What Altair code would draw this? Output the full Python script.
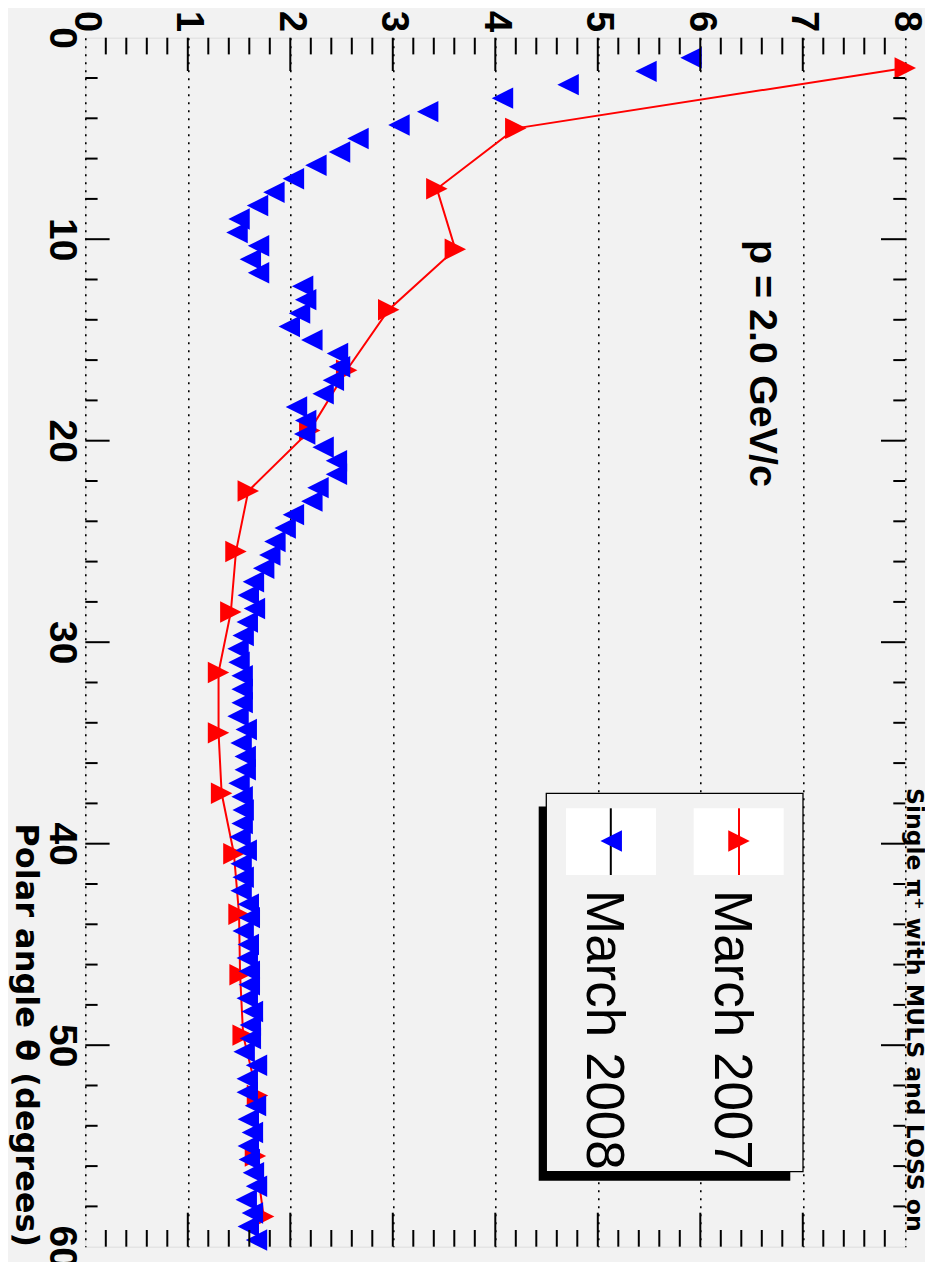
import altair as alt
import pandas as pd

W, H = 820, 1209
FONT = "Liberation Sans"
WIDE = "DejaVu Sans"

# ---- data ----
red_angle = [1.5, 4.5, 7.5, 10.5, 13.5, 16.5, 19.5, 22.5, 25.5, 28.5,
             31.5, 34.5, 37.5, 40.5, 43.5, 46.5, 49.5, 52.5, 55.5, 58.5]
red_value = [8.0, 4.2, 3.43, 3.61, 2.96, 2.55, 2.19, 1.59, 1.47, 1.42,
             1.30, 1.30, 1.33, 1.45, 1.50, 1.51, 1.54, 1.68, 1.66, 1.74]

blue_angle = [1.0, 1.67, 2.33, 3.0, 3.67, 4.33, 5.0, 5.67, 6.33, 7.0,
              7.67, 8.33, 9.0, 9.67, 10.33, 11.0, 11.67, 12.33, 13.0, 13.67,
              14.33, 15.0, 15.67, 16.33, 17.0, 17.67, 18.33, 19.0, 19.67, 20.33,
              21.0, 21.67, 22.33, 23.0, 23.67, 24.33, 25.0, 25.67, 26.33, 27.0,
              27.67, 28.33, 29.0, 29.67, 30.33, 31.0, 31.67, 32.33, 33.0, 33.67,
              34.33, 35.0, 35.67, 36.33, 37.0, 37.67, 38.33, 39.0, 39.67, 40.33,
              41.0, 41.67, 42.33, 43.0, 43.67, 44.33, 45.0, 45.67, 46.33, 47.0,
              47.67, 48.33, 49.0, 49.67, 50.33, 51.0, 51.67, 52.33, 53.0, 53.67,
              54.33, 55.0, 55.67, 56.33, 57.0, 57.67, 58.33, 59.0, 59.67]
blue_value = [5.91, 5.47, 4.71, 4.07, 3.34, 3.06, 2.66, 2.48, 2.25, 2.03,
              1.84, 1.68, 1.50, 1.48, 1.69, 1.61, 1.69, 2.12, 2.15, 2.09,
              1.99, 2.21, 2.46, 2.48, 2.42, 2.32, 2.06, 2.15, 2.14, 2.32,
              2.45, 2.45, 2.27, 2.21, 2.03, 1.95, 1.85, 1.80, 1.74, 1.64,
              1.59, 1.65, 1.58, 1.54, 1.49, 1.50, 1.53, 1.53, 1.53, 1.49,
              1.57, 1.52, 1.56, 1.56, 1.50, 1.53, 1.54, 1.53, 1.51, 1.57,
              1.52, 1.54, 1.52, 1.59, 1.60, 1.54, 1.59, 1.58, 1.60, 1.60,
              1.58, 1.63, 1.61, 1.61, 1.55, 1.67, 1.58, 1.58, 1.66, 1.59,
              1.63, 1.59, 1.60, 1.64, 1.67, 1.57, 1.63, 1.59, 1.67]

value_labels = [0, 1, 2, 3, 4, 5, 6, 7, 8]
angle_labels = [0, 10, 20, 30, 40, 50, 60]
series_names = ["March 2007", "March 2008"]
title_text = "Single \u03c0\u207a with MULS and LOSS on"
note_text = "p = 2.0 GeV/c"
x_title = "Polar angle \u03b8 (degrees)"

red = pd.DataFrame({"angle": red_angle, "value": red_value})
blue = pd.DataFrame({"angle": blue_angle, "value": blue_value})

RIGHT = "M-1,-1L1,0L-1,1Z"
LEFT = "M1,-1L-1,0L1,1Z"
MSIZE = 460

xscale = alt.Scale(domain=[0, 8], nice=False, zero=False)
yscale = alt.Scale(domain=[0, 60], nice=False, zero=False, reverse=True)

xaxis = alt.Axis(orient="top", values=value_labels, ticks=False, tickSize=0, domain=False,
                 grid=True, gridColor="black", gridDash=[2, 6], gridWidth=1.6, gridOpacity=1,
                 labelAngle=90, labelAlign="right", labelBaseline="middle",
                 labelFont=FONT, labelFontWeight="bold", labelFontSize=38, labelColor="black",
                 labelPadding=6, labelFlush=False, labelOverlap=False, labelBound=False,
                 title=None)
yaxis = alt.Axis(orient="left", values=angle_labels, ticks=False, tickSize=0, domain=False,
                 grid=False, labelAngle=90, labelAlign="center", labelBaseline="top",
                 labelFont=FONT, labelFontWeight="bold", labelFontSize=39, labelColor="black",
                 labelPadding=5, labelFlush=False, labelOverlap=False, labelBound=False,
                 title=x_title, titleAngle=90, titleAlign="right", titleBaseline="alphabetic",
                 titleX=-69.8, titleY=H, titleFont=WIDE, titleFontWeight="bold",
                 titleFontSize=32, titleColor="black")

X = alt.X("value:Q", scale=xscale, axis=xaxis)
Y = alt.Y("angle:Q", scale=yscale, axis=yaxis)

red_line = alt.Chart(red).mark_line(color="#ff0000", strokeWidth=2).encode(
    x=X, y=Y, order="angle:Q")
red_pts = alt.Chart(red).mark_point(shape=RIGHT, filled=True, size=MSIZE, color="#ff0000",
                                    opacity=1, strokeWidth=0).encode(x=X, y=Y)
blue_pts = alt.Chart(blue).mark_point(shape=LEFT, filled=True, size=MSIZE, color="#0000ff",
                                      opacity=1, strokeWidth=0).encode(x=X, y=Y)

# ---- frame ticks (inside) ----
vmaj = pd.DataFrame({"value": [1, 2, 3, 4, 5, 6, 7]})
vmin = pd.DataFrame({"value": [round(i * 0.2, 1) for i in range(1, 40) if i % 5]})
amaj = pd.DataFrame({"angle": [10, 20, 30, 40, 50]})
amin = pd.DataFrame({"angle": [a for a in range(2, 60, 2) if a % 10]})


def vtick(df, y0, y1):
    return alt.Chart(df).mark_rule(color="black", strokeWidth=2).encode(
        x=X, y=alt.value(y0), y2=alt.value(y1))


def atick(df, x0, x1):
    return alt.Chart(df).mark_rule(color="black", strokeWidth=2).encode(
        y=Y, x=alt.value(x0), x2=alt.value(x1))


ticks = [vtick(vmaj, 0, 33.3), vtick(vmin, 0, 16.7),
         vtick(vmaj, H, H - 34), vtick(vmin, H, H - 16.7),
         atick(amaj, 0, 24.3), atick(amin, 0, 12.3),
         atick(amaj, W, W - 24.3), atick(amin, W, W - 12)]

# ---- legend (drawn by hand, rotated like the reference) ----
one = pd.DataFrame({"k": [0]})


def rect(x0, x1, y0, y1, **kw):
    return alt.Chart(one).mark_rect(**kw).encode(
        x=alt.value(x0), x2=alt.value(x1), y=alt.value(y0), y2=alt.value(y1))


def text(s, x, y, size, weight="normal", align="left", font=FONT):
    return alt.Chart(one).mark_text(text=s, angle=90, align=align, baseline="alphabetic",
                                    font=font, fontSize=size, fontWeight=weight,
                                    color="black").encode(x=alt.value(x), y=alt.value(y))


legend = [
    rect(453.4, 705, 768.9, 1143, color="black"),
    rect(461, 717.7, 755.6, 1134, fill="#f2f2f2", stroke="black", strokeWidth=1.3),
    rect(608.4, 698.4, 770.6, 837.3, color="white"),
    rect(480.7, 570.7, 770.6, 837.3, color="white"),
    alt.Chart(one).mark_rule(color="#ff0000", strokeWidth=2).encode(
        x=alt.value(653.7), y=alt.value(770.6), y2=alt.value(837.3)),
    alt.Chart(one).mark_rule(color="black", strokeWidth=2).encode(
        x=alt.value(525.5), y=alt.value(770.6), y2=alt.value(837.3)),
    alt.Chart(one).mark_point(shape=RIGHT, filled=True, size=MSIZE, color="#ff0000",
                              opacity=1, strokeWidth=0).encode(
        x=alt.value(653.7), y=alt.value(803.3)),
    alt.Chart(one).mark_point(shape=LEFT, filled=True, size=MSIZE, color="#0000ff",
                              opacity=1, strokeWidth=0).encode(
        x=alt.value(525.9), y=alt.value(803.3)),
    text(series_names[0], 630, 852.3, 53),
    text(series_names[1], 501.7, 852.3, 53),
]

notes = [
    text(note_text, 665, 202.3, 39.5, "bold"),
    text(title_text, 821.7, 1194, 23.5, "bold", align="right", font=WIDE),
]

chart = alt.layer(red_line, red_pts, blue_pts, *ticks, *legend, *notes).properties(
    width=W, height=H,
    autosize=alt.AutoSizeParams(type="none"),
    padding={"left": 77.3, "top": 29.7, "right": 19.5, "bottom": 15},
    background="#f2f2f2",
).configure_view(stroke="black", strokeWidth=2.5, fill="#f2f2f2").configure(font=FONT)

chart.save("out.html", embed_options={"renderer": "svg", "actions": False})
